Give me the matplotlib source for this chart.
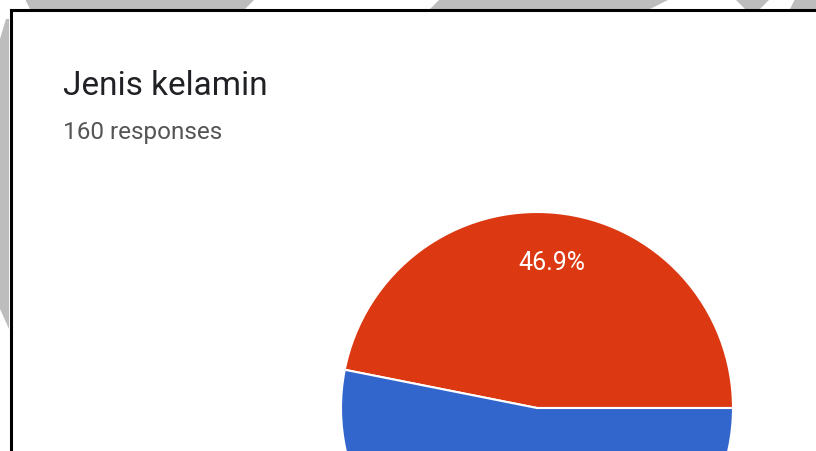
import matplotlib.pyplot as plt
from matplotlib.patches import Polygon

plt.rcParams['font.family'] = ['Roboto', 'DejaVu Sans']

# data
labels = ["Perempuan", "Laki-laki"]
counts = [75, 85]
colors = ["#DC3912", "#3366CC"]
title = "Jenis kelamin"
subtitle = "160 responses"

fig = plt.figure(figsize=(8.16, 4.52), dpi=100)
fig.patch.set_facecolor("white")

W, H = 816.0, 452.0

# grey watermark bits outside the frame
wm = "#BDBDBD"
for pts in [
    [(25, 0), (255, 0), (245, 10), (30, 10)],
    [(440, 0), (670, 0), (650, 10), (430, 10)],
    [(735, 0), (770, 0), (760, 10), (745, 10)],
    [(795, 0), (816, 0), (816, 10), (790, 10)],
    [(0, 40), (6, 20), (9, 20), (9, 330), (0, 310)],
]:
    fig.patches.append(Polygon([(x / W, 1 - y / H) for x, y in pts],
                               closed=True, transform=fig.transFigure,
                               facecolor=wm, edgecolor="none", zorder=0))

# black frame (top and left visible)
fig.add_artist(plt.Line2D([10.5 / W, 1.0], [1 - 11 / H, 1 - 11 / H],
                          transform=fig.transFigure, color="black", lw=2.2))
fig.add_artist(plt.Line2D([10.5 / W, 10.5 / W], [0, 1 - 11 / H],
                          transform=fig.transFigure, color="black", lw=2.2))

fig.text(63 / W, 1 - 95 / H, title, fontsize=24, color="#202124",
         ha="left", va="baseline")
fig.text(63 / W, 1 - 139 / H, subtitle, fontsize=17.5, color="#555555",
         ha="left", va="baseline")

# pie: centre (537, 409) px, radius 196 px
cx, cy, r = 537, 409, 196
ax = fig.add_axes([(cx - r) / W, (H - cy - r) / H, 2 * r / W, 2 * r / H])
wedges, texts = ax.pie(counts, colors=colors, startangle=0, counterclock=True,
                       labels=["%.1f%%" % (100.0 * c / sum(counts)) for c in counts],
                       labeldistance=0.75,
                       wedgeprops=dict(edgecolor="white", linewidth=1.5),
                       textprops=dict(color="white", fontsize=18,
                                      ha="center", va="center"))
# the blue slice's label sits below the cropped edge
texts[1].set_visible(False)
ax.set_xlim(-1, 1)
ax.set_ylim(-1, 1)
ax.set_aspect("equal")
ax.axis("off")

fig.savefig("out.png", dpi=100, facecolor="white")
